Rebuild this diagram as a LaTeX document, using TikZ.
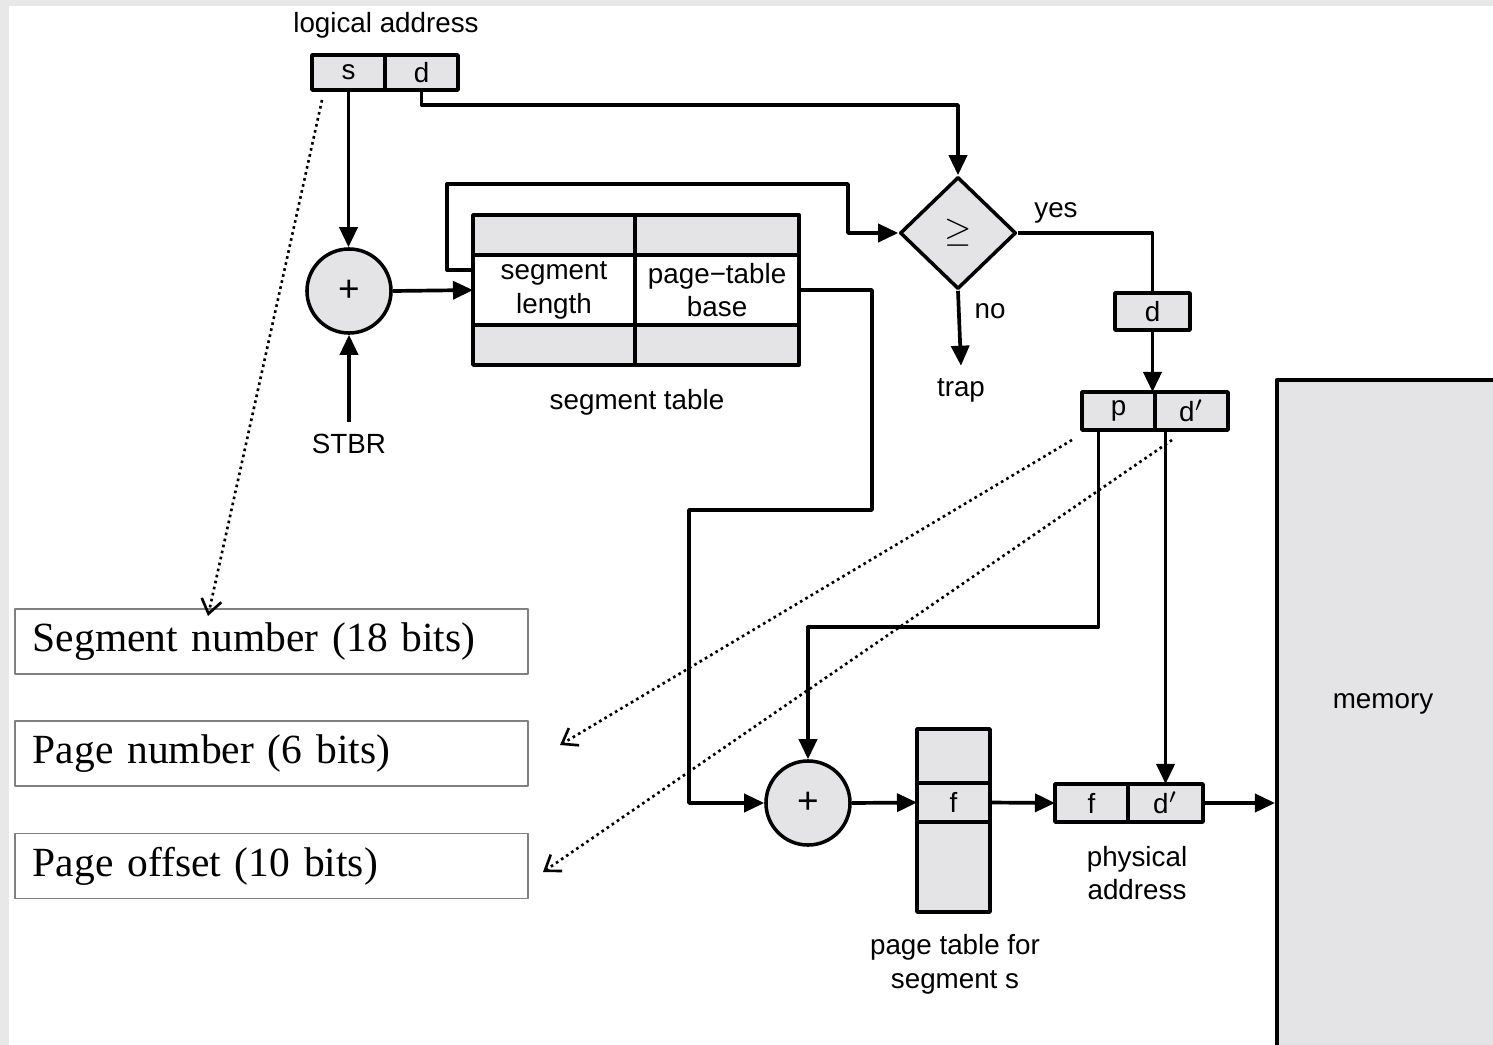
\documentclass[tikz,border=0pt]{standalone}
\usepackage{fontspec}
\setmainfont{Liberation Sans}
\newfontfamily\serifnote[WordSpace=0.7]{Liberation Serif}
\usetikzlibrary{positioning,shapes.geometric,arrows.meta}
\definecolor{boxgray}{RGB}{228,228,230}
\definecolor{framegray}{RGB}{232,232,232}
\tikzset{
  cell/.style={draw, fill=boxgray, line width=1pt, inner sep=0pt, outer sep=0pt, minimum width=0.74cm, minimum height=0.37cm},
  blank/.style={cell, fill=white},
  adder/.style={circle, draw, fill=boxgray, line width=1pt, minimum size=0.84cm, inner sep=0pt, font=\fontsize{10.5}{12}\selectfont},
  wire/.style={line width=1.05pt},
  flow/.style={wire, -{Triangle[length=2mm,width=1.8mm]}},
  hint/.style={densely dotted, line width=0.75pt, -{Straight Barb[length=1.4mm,width=2mm]}},
  note/.style={draw=gray, line width=0.5pt, minimum width=5.13cm, minimum height=0.65cm, text width=4.77cm, align=left, inner sep=0pt, font=\serifnote\fontsize{11.8}{13}\selectfont},
}
\begin{document}
\begin{tikzpicture}[x=0.01cm, y=-0.01cm, font=\fontsize{7.9}{9.6}\selectfont, line join=round]
			\useasboundingbox (0,0) rectangle (1493,1045);
			\fill[framegray] (0,0) rectangle (1493,1045);
			\fill[white] (9,6) rectangle (1493,1045);
			% logical address
			\node[cell, minimum width=0.73cm, minimum height=0.35cm] (s) at (348.5,72.5) {s};
			\node[cell, minimum width=0.73cm, minimum height=0.35cm, right=0pt of s] (d) {d};
			\node (lalabel) at (386,25) {logical address};
			% first adder
			\node[adder] (add1) at (349,291) {+};
			\node (stbr) at (349,444) {STBR};
			% segment table
			\node[cell, minimum width=1.62cm, minimum height=0.40cm] (st1) at (554,235) {};
			\node[cell, minimum width=1.64cm, minimum height=0.40cm, right=0pt of st1] (st2) {};
			\node[blank, minimum width=1.62cm, minimum height=0.70cm, below=0pt of st1, align=center] (seglen) {segment\\length};
			\node[blank, minimum width=1.64cm, minimum height=0.70cm, right=0pt of seglen, align=center] (ptbase) {page−table\\base};
			\node[cell, minimum width=1.62cm, minimum height=0.40cm, below=0pt of seglen] (st5) {};
			\node[cell, minimum width=1.64cm, minimum height=0.40cm, right=0pt of st5] (st6) {};
			\node (sttitle) at (637,402) {segment table};
			% limit check
			\node[diamond, draw, fill=boxgray, line width=1pt, minimum width=1.16cm, minimum height=1.12cm, inner sep=0pt] (test) at (958,233) {\fontsize{10}{12}\selectfont$\geq$};
			\node (yeslabel) at (1056,213) {yes};
			\node (nolabel) at (990,311) {no};
			\node (trap) at (961,390) {trap};
			\node[cell, minimum width=0.75cm] (dd) at (1152.5,311.5) {d};
			\node[cell, minimum width=0.73cm, minimum height=0.38cm] (pp) at (1118.5,411) {p};
			\node[cell, minimum width=0.73cm, minimum height=0.38cm, right=0pt of pp] (dp) {d$'$};
			% second adder and page table
			\node[adder] (add2) at (808,803) {+};
			\node[cell, minimum width=0.73cm, minimum height=0.39cm] (pf) at (953.5,802.5) {f};
			\node[cell, minimum width=0.73cm, minimum height=0.54cm, above=0pt of pf] (pt1) {};
			\node[cell, minimum width=0.73cm, minimum height=0.90cm, below=0pt of pf] (pt3) {};
			\node[align=center] (ptlabel) at (955,964) {page table for\\segment s};
			% physical address
			\node[cell, minimum width=0.73cm, minimum height=0.38cm] (ff) at (1091.5,803) {f};
			\node[cell, minimum width=0.75cm, minimum height=0.38cm, right=0pt of ff] (fd) {d$'$};
			\node[align=center] (palabel) at (1137,873) {physical\\address};
			% memory
			\node[draw, fill=boxgray, line width=1pt, minimum width=2.18cm, minimum height=6.75cm, anchor=north west, inner sep=0pt] (mem) at (1275,378) {};
			\node (memlabel) at (1383,704) {memory};
			% field notes
			\node[note] (segnote) at (271.5,641.5) {Segment number (18 bits)};
			\node[note] (pagenote) at (271.5,753.5) {Page number (6 bits)};
			\node[note] (offnote) at (271.5,866) {Page offset (10 bits)};
			% bends
			\coordinate (looptop) at (848,184);
			\coordinate (jog) at (872,510);
			\coordinate (drop) at (689,510);
			% connectors
			\draw[flow] (s.south) -- (s.south |- add1.north);
			\draw[flow] (stbr) -- (add1.south);
			\draw[flow] (add1.east) -- (seglen.west);
			\draw[flow] (d.south) -- ++(0,-0.15cm) -| (test.north);
			\draw[flow] ([yshift=2mm]seglen.west) -- ++(-0.26cm,0) |- (looptop) |- (test.west);
			\draw[flow] (ptbase.east) -| (jog) -- (drop) |- (add2.west);
			\draw[wire] (test.east) -| (dd.north);
			\draw[flow] (dd.south) -- (dd.south |- pp.north);
			\draw[flow] (test.south) -- (trap.north);
			\draw[flow] ([xshift=-2mm]pp.south) -- ++(0,-1.97cm) -| (add2.north);
			\draw[flow] (fd.north |- dp.south) -- (fd.north);
			\draw[flow] (add2.east) -- (pf.west);
			\draw[flow] (pf.east) -- (ff.west);
			\draw[flow] (fd.east) -- (fd.east -| mem.west);
			% dotted hints
			\coordinate (sfrom) at (322,100);
			\coordinate (sto) at (208,616);
			\coordinate (pfrom) at (1072,440);
			\coordinate (pto) at (560,745);
			\coordinate (ofrom) at (1172,440);
			\coordinate (oto) at (543,872);
			\draw[hint] (sfrom) -- (sto);
			\draw[hint] (pfrom) -- (pto);
			\draw[hint] (ofrom) -- (oto);
		\end{tikzpicture}
\end{document}
